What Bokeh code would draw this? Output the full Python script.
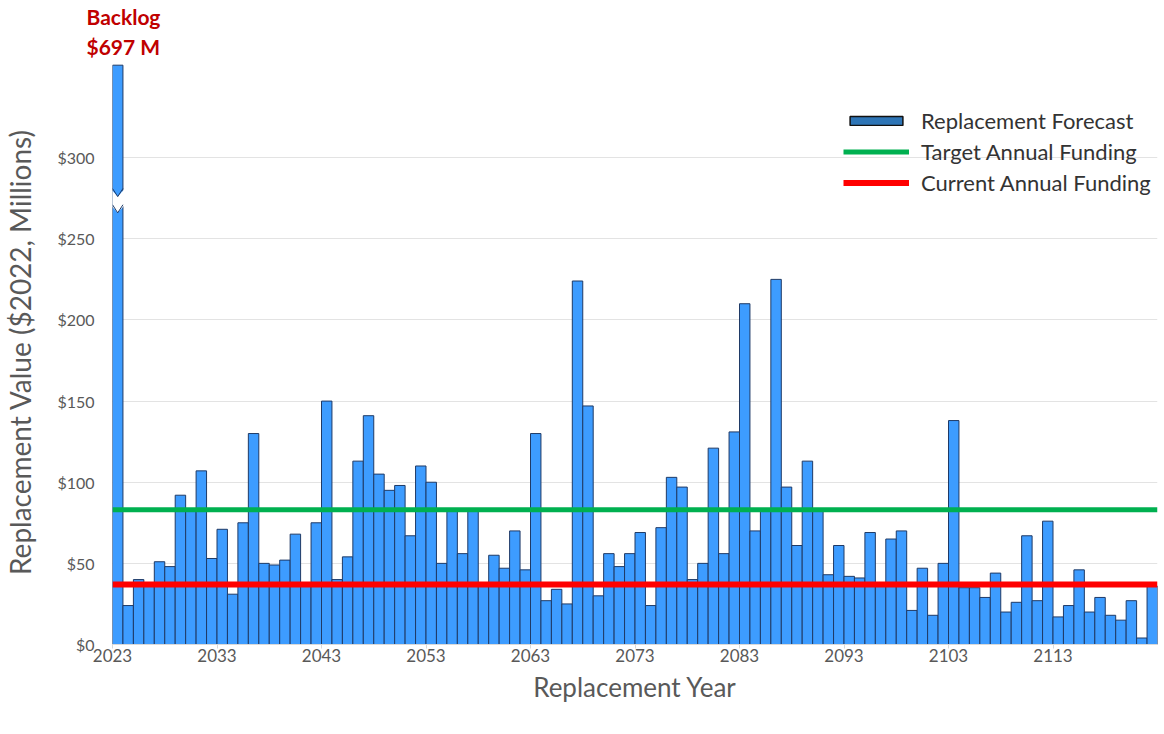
import numpy as np
from bokeh.plotting import figure
from bokeh.models import FixedTicker, Legend, LegendItem, Title, ColumnDataSource, Range1d
from bokeh.embed import file_html
from bokeh.resources import INLINE

# ---------------- data ----------------
years = list(range(2023, 2123))
replacement = [
    697, 24, 40, 36, 51, 48, 92, 82, 107, 53,
    71, 31, 75, 130, 50, 49, 52, 68, 36, 75,
    150, 40, 54, 113, 141, 105, 95, 98, 67, 110,
    100, 50, 82, 56, 82, 36, 55, 47, 70, 46,
    130, 27, 34, 25, 224, 147, 30, 56, 48, 56,
    69, 24, 72, 103, 97, 40, 50, 121, 56, 131,
    210, 70, 82, 225, 97, 61, 113, 82, 43, 61,
    42, 41, 69, 36, 65, 70, 21, 47, 18, 50,
    138, 35, 35, 29, 44, 20, 26, 67, 27, 76,
    17, 24, 46, 20, 29, 18, 15, 27, 4, 36,
]
display_cap = 357          # broken-axis cap for the backlog bar
target_funding = 83
current_funding = 37
backlog_text = ["Backlog", "$697 M"]
y_ticks = [0, 50, 100, 150, 200, 250, 300]
y_tick_labels = ["$0", "$50", "$100", "$150", "$200", "$250", "$300"]
x_ticks = [2023, 2033, 2043, 2053, 2063, 2073, 2083, 2093, 2103, 2113]
x_tick_labels = [str(t) for t in x_ticks]
series_names = ["Replacement Forecast", "Target Annual Funding", "Current Annual Funding"]

FONT = "Lato"
GREY = "#595959"

p = figure(width=1164, height=734, output_backend="svg", toolbar_location=None,
           x_range=Range1d(years[0], years[-1] + 1), y_range=Range1d(0, 360.5),
           min_border_left=111, min_border_right=7, min_border_top=0, min_border_bottom=90)
p.title = None
p.outline_line_color = None
p.background_fill_color = "white"

# backlog titles (closest to frame added first)
p.add_layout(Title(text=backlog_text[1], align="left", offset=-26, standoff=2,
                   text_font=FONT, text_font_size="21px", text_font_style="bold",
                   text_color="#c00000"), "above")
p.add_layout(Title(text=backlog_text[0], align="left", offset=-26, standoff=3,
                   text_font=FONT, text_font_size="21px", text_font_style="bold",
                   text_color="#c00000"), "above")

# bars
yr = np.array(years, dtype=float)
heights = np.minimum(np.array(replacement, dtype=float), display_cap)
src = ColumnDataSource(dict(left=yr, right=yr + 1, top=heights, bottom=np.zeros(len(years))))
bars = p.quad(left="left", right="right", top="top", bottom="bottom", source=src,
              fill_color="#3d9cff", line_color="#1f3a66", line_width=1)

# axis break on the backlog bar
bx0, bx1 = years[0], years[0] + 1
bxc = (bx0 + bx1) / 2
hi, lo, dip = 281, 271, 5
p.patch([bx0 - 0.2, bxc, bx1 + 0.2, bx1 + 0.2, bxc, bx0 - 0.2],
        [hi, hi - dip, hi, lo, lo - dip, lo], fill_color="white", line_color=None)
p.multi_line([[bx0, bxc, bx1], [bx0, bxc, bx1]], [[hi, hi - dip, hi], [lo, lo - dip, lo]],
             line_color="#1f3a66", line_width=1)

# funding lines
xs = [years[0], years[-1] + 1]
green = p.line(xs, [target_funding] * 2, line_color="#00b050", line_width=5)
red = p.line(xs, [current_funding] * 2, line_color="#ff0000", line_width=6)

# legend proxy for bars
proxy = p.quad(left=[np.nan], right=[np.nan], top=[np.nan], bottom=[np.nan],
               fill_color="#2e75b6", line_color="#111111", line_width=1.5)

legend = Legend(items=[LegendItem(label=series_names[0], renderers=[proxy]),
                       LegendItem(label=series_names[1], renderers=[green]),
                       LegendItem(label=series_names[2], renderers=[red])],
                location=(731, 448), orientation="vertical",
                glyph_width=66, glyph_height=11, label_height=26, spacing=4,
                label_standoff=12, padding=0, margin=0,
                border_line_color=None, background_fill_alpha=0,
                label_text_font=FONT, label_text_font_size="22px", label_text_color="#333333")
p.add_layout(legend)

# axes
p.yaxis.ticker = FixedTicker(ticks=y_ticks)
p.yaxis.major_label_overrides = dict(zip(y_ticks, y_tick_labels))
p.yaxis.axis_line_color = None
p.yaxis.major_tick_line_color = None
p.yaxis.minor_tick_line_color = None
p.yaxis.major_tick_out = 0
p.yaxis.major_label_standoff = 18
p.yaxis.major_label_text_font = FONT
p.yaxis.major_label_text_font_size = "16px"
p.yaxis.major_label_text_color = GREY
p.yaxis.axis_label = "Replacement Value ($2022, Millions)"
p.yaxis.axis_label_text_font = FONT
p.yaxis.axis_label_text_font_size = "28px"
p.yaxis.axis_label_text_font_style = "normal"
p.yaxis.axis_label_text_color = GREY
p.yaxis.axis_label_standoff = 17

p.xaxis.ticker = FixedTicker(ticks=x_ticks)
p.xaxis.major_label_overrides = dict(zip(x_ticks, x_tick_labels))
p.xaxis.axis_line_color = "#d9d9d9"
p.xaxis.major_tick_line_color = "#d9d9d9"
p.xaxis.major_tick_in = 0
p.xaxis.major_tick_out = 4
p.xaxis.minor_tick_line_color = None
p.xaxis.major_label_standoff = 0
p.xaxis.major_label_text_font = FONT
p.xaxis.major_label_text_font_size = "17px"
p.xaxis.major_label_text_color = GREY
p.xaxis.axis_label = "Replacement Year"
p.xaxis.axis_label_text_font = FONT
p.xaxis.axis_label_text_font_size = "26px"
p.xaxis.axis_label_text_font_style = "normal"
p.xaxis.axis_label_text_color = GREY
p.xaxis.axis_label_standoff = 6

p.xgrid.grid_line_color = None
p.ygrid.ticker = FixedTicker(ticks=y_ticks[1:])
p.ygrid.grid_line_color = "#e3e3e3"
p.ygrid.grid_line_width = 1

open("out.html", "w").write(file_html(p, INLINE))
